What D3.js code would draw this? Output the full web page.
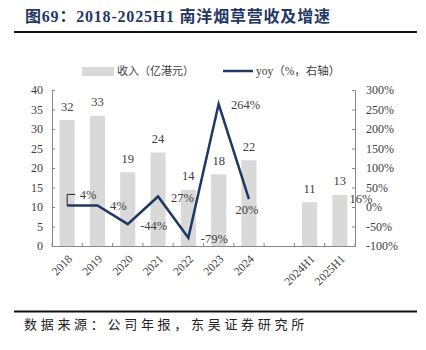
<!DOCTYPE html>
<html><head><meta charset="utf-8">
<script src="https://cdn.jsdelivr.net/npm/d3@7"></script>
<style>body{margin:0;background:#fff}svg{display:block}</style>
</head><body>
<script>
const categories = ["2018","2019","2020","2021","2022","2023","2024","","2024H1","2025H1"];
const revenue = [32.3, 33.4, 18.9, 24.0, 14.4, 18.4, 22.0, null, 11.2, 13.1];
const yoy = [4, 4, -44, 27, -79, 264, 20, null, null, 16];
const leftTicks = [0,5,10,15,20,25,30,35,40];
const rightTicks = [-100,-50,0,50,100,150,200,250,300];
// label placement offsets relative to each yoy point (layout only)
const yoyLabelOffsets = [[21,-11],[21,0],[26,1.5],[24.5,0.8],[26,0.5],[27,1],[-2,10],[0,0],[0,0],[21,-2]];

const W=426,H=350;
const svg=d3.select("body").append("svg").attr("width",W).attr("height",H);
const serif='"Liberation Serif","Noto Sans CJK SC",serif';
const cjk='"Noto Sans CJK SC",sans-serif';
const navy="#1f3864";
const txt="#404040";

// title
svg.append("text").attr("x",25).attr("y",21.5).attr("font-family",serif).attr("font-weight","bold")
  .attr("font-size",16).attr("fill",navy).attr("letter-spacing",0.8).text("图69：2018-2025H1 南洋烟草营收及增速");
svg.append("line").attr("x1",14).attr("x2",417).attr("y1",32).attr("y2",32).attr("stroke","#111").attr("stroke-width",2);
svg.append("line").attr("x1",14).attr("x2",417).attr("y1",311.5).attr("y2",311.5).attr("stroke","#111").attr("stroke-width",2);
svg.append("text").attr("x",24).attr("y",329).attr("font-family",cjk).attr("font-size",13).attr("fill","#222")
  .attr("letter-spacing",3.7).text("数据来源：公司年报，东吴证券研究所");

const x=d3.scaleBand().domain(categories.map((c,i)=>i)).range([52,355]).paddingInner(0.5).paddingOuter(0.25);
const yL=d3.scaleLinear().domain([0,40]).range([246,90]);
const yR=d3.scaleLinear().domain([-100,300]).range([246,90]);
const step=x.step();

// legend
svg.append("rect").attr("x",82).attr("y",67).attr("width",32).attr("height",9).attr("fill","#d9d9d9");
svg.append("text").attr("x",117).attr("y",75).attr("font-family",cjk).attr("font-size",11).attr("fill",txt).text("收入（亿港元）");
svg.append("line").attr("x1",223).attr("x2",253).attr("y1",71).attr("y2",71).attr("stroke",navy).attr("stroke-width",2.5);
svg.append("text").attr("x",256).attr("y",75).attr("font-family",serif).attr("font-size",11.5).attr("fill",txt).text("yoy（%，右轴）");

// bars
svg.append("g").selectAll("rect").data(revenue.map((v,i)=>({v,i})).filter(d=>d.v!=null)).join("rect")
  .attr("x",d=>x(d.i)).attr("width",x.bandwidth()).attr("y",d=>yL(d.v)).attr("height",d=>yL(0)-yL(d.v))
  .attr("fill","#d9d9d9").attr("rx",1);
svg.append("g").selectAll("text").data(revenue.map((v,i)=>({v,i})).filter(d=>d.v!=null)).join("text")
  .attr("x",d=>x(d.i)+x.bandwidth()/2).attr("y",d=>yL(d.v)-9.5).attr("text-anchor","middle")
  .attr("font-family",serif).attr("font-size",12.5).attr("fill",txt).text(d=>d3.format(".0f")(d.v));

// axes
const axL=svg.append("g").attr("transform","translate(52,0)").call(d3.axisLeft(yL).tickValues(leftTicks).tickSize(-3).tickPadding(9));
const axR=svg.append("g").attr("transform","translate(355,0)").call(d3.axisRight(yR).tickValues(rightTicks).tickSize(-3).tickPadding(10).tickFormat(d=>d+"%"));
[axL,axR].forEach(a=>{a.select(".domain").attr("stroke","#888");a.selectAll(".tick line").attr("stroke","#888");
  a.selectAll("text").attr("font-family",serif).attr("font-size",12).attr("fill",txt);});
axR.selectAll("text").attr("x",11);
const axX=svg.append("g").attr("transform","translate(0,246)").call(d3.axisBottom(x).tickSize(0).tickFormat(i=>categories[i]));
axX.select(".domain").attr("stroke","#888");
axX.selectAll("text").attr("font-family",serif).attr("font-size",11.5).attr("fill",txt)
  .attr("text-anchor","end").attr("transform","translate(0,8) rotate(-45)").attr("dy","0.7em").attr("y",0);
// category boundary ticks (inward)
svg.append("g").selectAll("line").data(d3.range(categories.length+1)).join("line")
  .attr("x1",i=>52+i*step).attr("x2",i=>52+i*step).attr("y1",246).attr("y2",243).attr("stroke","#888");

// yoy line
const pts=yoy.map((v,i)=>({v,i}));
const line=d3.line().defined(d=>d.v!=null).x(d=>x(d.i)+x.bandwidth()/2).y(d=>yR(d.v));
svg.append("path").datum(pts).attr("d",line).attr("fill","none").attr("stroke",navy).attr("stroke-width",2.5).attr("stroke-linejoin","miter");
// leader for first label
const p0={x:x(0)+x.bandwidth()/2,y:yR(yoy[0])};
svg.append("path").attr("d",`M${p0.x},${p0.y} V${p0.y+yoyLabelOffsets[0][1]} H${p0.x+yoyLabelOffsets[0][0]-13}`)
  .attr("fill","none").attr("stroke","#222").attr("stroke-width",1);
svg.append("g").selectAll("text").data(pts.filter(d=>d.v!=null)).join("text")
  .attr("x",d=>x(d.i)+x.bandwidth()/2+yoyLabelOffsets[d.i][0])
  .attr("y",d=>yR(d.v)+yoyLabelOffsets[d.i][1]).attr("dy","0.35em").attr("text-anchor","middle")
  .attr("font-family",serif).attr("font-size",12.5).attr("fill",txt).text(d=>d.v+"%");
</script>
</body></html>
